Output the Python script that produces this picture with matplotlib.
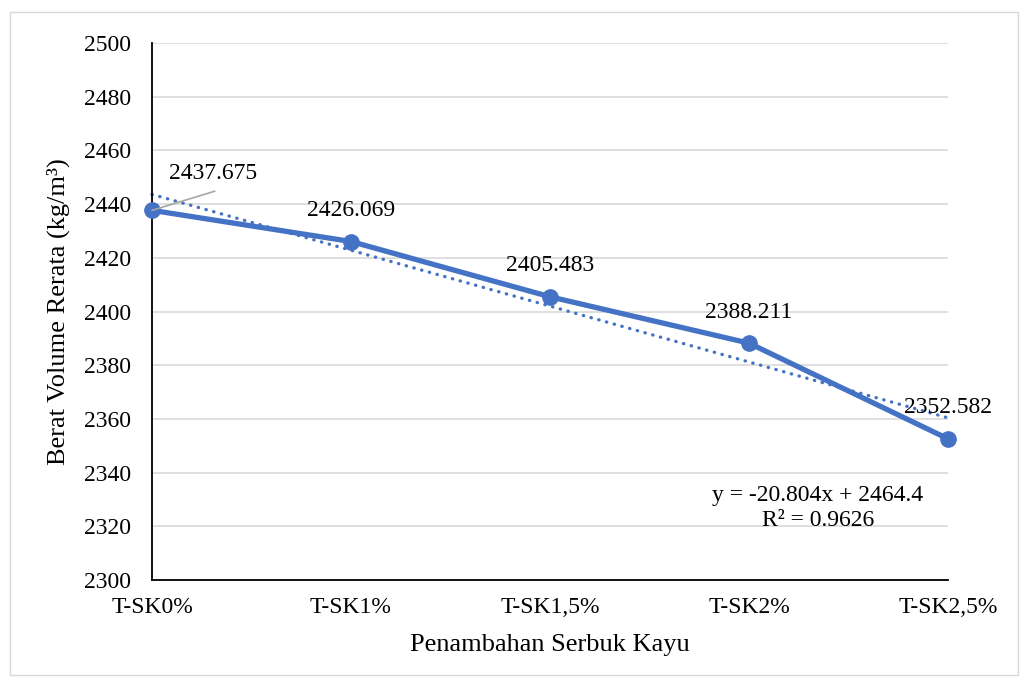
import numpy as np
import matplotlib.pyplot as plt
from matplotlib.patches import Rectangle

plt.rcParams['font.family'] = ['Liberation Serif', 'DejaVu Serif']

kategori = ['T-SK0%', 'T-SK1%', 'T-SK1,5%', 'T-SK2%', 'T-SK2,5%']
berat_volume = [2437.675, 2426.069, 2405.483, 2388.211, 2352.582]
label_nilai = ['2437.675', '2426.069', '2405.483', '2388.211', '2352.582']

biru = '#4472C4'

fig = plt.figure(figsize=(10.22, 6.83), dpi=100)
fig.patches.append(Rectangle((10 / 1022, 8 / 683), 1008 / 1022, 663 / 683,
                             transform=fig.transFigure, fill=False,
                             edgecolor='#d9d9d9', linewidth=1))
ax = fig.add_axes([152 / 1022, 103 / 683, 796 / 1022, 537 / 683])

x = np.arange(len(kategori))
ax.plot(x, berat_volume, color=biru, linewidth=3.8, marker='o',
        markersize=11, zorder=3, clip_on=False)

# garis tren linier (x mulai dari 1 seperti di Excel)
a, b = np.polyfit(x + 1, berat_volume, 1)
ax.plot(x, a * (x + 1) + b, color=biru, linewidth=2.4, linestyle=(0, (0.1, 2.3)),
        dash_capstyle='round', zorder=2, clip_on=False)
r2 = np.corrcoef(x + 1, berat_volume)[0, 1] ** 2

ax.set_xlim(0, 4)
ax.set_ylim(2300, 2500)
ax.set_yticks(np.arange(2300, 2501, 20))
ax.set_xticks(x)
ax.set_xticklabels(kategori)
ax.grid(axis='y', color='#d9d9d9', linewidth=1.2)
ax.set_axisbelow(True)
ax.tick_params(length=0, labelsize=17)
ax.tick_params(axis='y', pad=15)
ax.tick_params(axis='x', pad=12)
for s in ['top', 'right']:
    ax.spines[s].set_visible(False)
for s in ['left', 'bottom']:
    ax.spines[s].set_color('black')
    ax.spines[s].set_linewidth(1.3)

ax.set_ylabel('Berat Volume Rerata (kg/m³)', fontsize=19, labelpad=10)
ax.set_xlabel('Penambahan Serbuk Kayu', fontsize=19, labelpad=12)

# label nilai; label pertama digeser dengan garis penunjuk
ax.annotate(label_nilai[0], xy=(x[0], berat_volume[0]), xytext=(61, 37),
            textcoords='offset pixels', ha='center', va='center', fontsize=17,
            arrowprops=dict(arrowstyle='-', color='#a6a6a6', lw=1.2,
                            relpos=(0.52, -0.35), patchA=None,
                            shrinkA=0, shrinkB=0))
for i in range(1, len(x)):
    ax.annotate(label_nilai[i], xy=(x[i], berat_volume[i]), xytext=(0, 31),
                textcoords='offset pixels', ha='center', va='center',
                fontsize=17, annotation_clip=False)

ax.text(818 / 1022, 1 - 496 / 683,
        'y = %.3fx + %.1f' % (a, b), transform=fig.transFigure,
        ha='center', va='center', fontsize=17)
ax.text(818 / 1022, 1 - 521 / 683, 'R² = %.4f' % r2,
        transform=fig.transFigure, ha='center', va='center', fontsize=17)

fig.savefig('out.png', dpi=100)
